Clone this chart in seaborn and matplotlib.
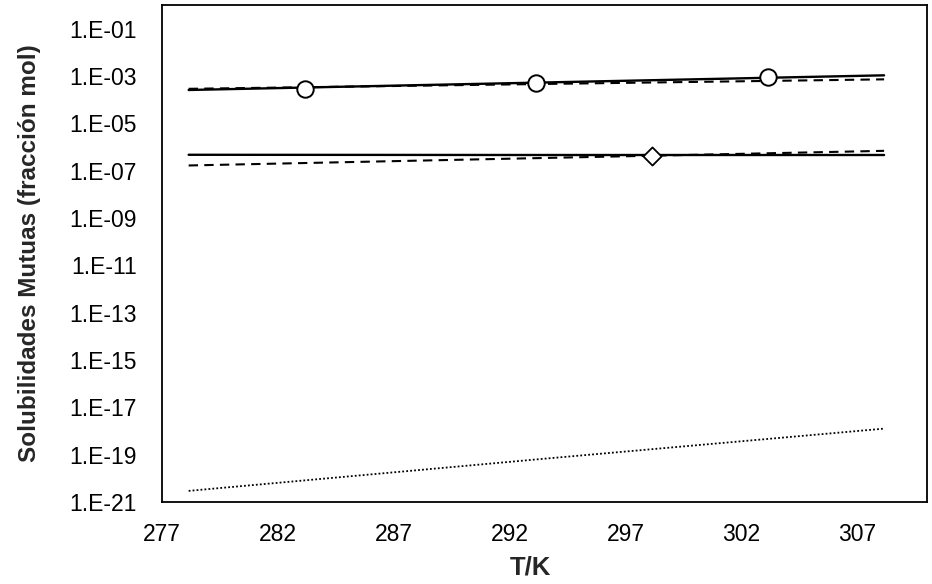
import numpy as np
import pandas as pd
import matplotlib
matplotlib.use("Agg")
import matplotlib.pyplot as plt
import seaborn as sns

# Temperature grid of the model curves (K)
T_model = [278.15, 293.15, 308.15]

# Water-rich phase solubility: model curves
x_upper_solid = [2.57e-4, 5.25e-4, 1.07e-3]
x_upper_dashed = [2.88e-4, 4.57e-4, 7.24e-4]
# Organic-rich phase solubility: model curves
x_lower_solid = [4.7e-7, 4.6e-7, 4.6e-7]
x_lower_dashed = [1.66e-7, 3.39e-7, 6.9e-7]
# Very low solubility curve
x_dotted = [2.95e-21, 6.3e-20, 1.26e-18]

# Experimental points
T_exp_circle = [283.15, 293.15, 303.15]
x_exp_circle = [2.8e-4, 5.0e-4, 9.3e-4]
T_exp_diamond = [298.15]
x_exp_diamond = [4.3e-7]

x_ticks = [277, 282, 287, 292, 297, 302, 307]
y_ticks = [10.0 ** e for e in range(-21, 0, 2)]
y_ticklabels = ["1.E-%02d" % -e for e in range(-21, 0, 2)]

sns.set_style("white")
plt.rcParams["font.family"] = ["Liberation Sans", "DejaVu Sans"]

fig = plt.figure(figsize=(9.32, 5.84), dpi=100)
ax = fig.add_axes([0.1738, 0.1404, 0.8208, 0.8510])

curves = [
    (x_upper_solid, "-", 1.7),
    (x_upper_dashed, (0, (4.5, 3.0)), 1.5),
    (x_lower_solid, "-", 1.7),
    (x_lower_dashed, (0, (4.5, 3.0)), 1.5),
    (x_dotted, (0, (1.0, 1.2)), 1.3),
]
for vals, ls, lw in curves:
    df = pd.DataFrame({"T": T_model, "x": vals})
    sns.lineplot(data=df, x="T", y="x", ax=ax, color="black",
                 linestyle=ls, linewidth=lw, legend=False)

sns.scatterplot(x=T_exp_circle, y=x_exp_circle, ax=ax, marker="o", s=140,
                facecolor="white", edgecolor="black", linewidth=1.4, zorder=5)
sns.scatterplot(x=T_exp_diamond, y=x_exp_diamond, ax=ax, marker="D", s=85,
                facecolor="white", edgecolor="black", linewidth=1.3, zorder=5)

ax.set_yscale("log")
ax.set_xlim(277, 310)
ax.set_ylim(1e-21, 1e0)
ax.set_xticks(x_ticks)
ax.set_xticklabels([str(t) for t in x_ticks])
ax.set_yticks(y_ticks)
ax.set_yticklabels(y_ticklabels)
ax.minorticks_off()

ax.tick_params(axis="both", direction="in", length=6, width=1.2,
               labelsize=16.5, colors="black")
ax.tick_params(axis="y", pad=18)
ax.tick_params(axis="x", pad=15)
for side in ["left", "right", "top", "bottom"]:
    ax.spines[side].set_visible(True)
    ax.spines[side].set_color("black")
    ax.spines[side].set_linewidth(1.3)

ax.set_xlabel("T/K", fontsize=18.5, fontweight="bold")
ax.xaxis.set_label_coords(0.481, -0.108)
ax.set_ylabel("Solubilidades Mutuas (fracción mol)", fontsize=17.5,
              fontweight="bold")
ax.yaxis.set_label_coords(-0.158, 0.5)

fig.savefig("out.png", dpi=100, facecolor="white")
